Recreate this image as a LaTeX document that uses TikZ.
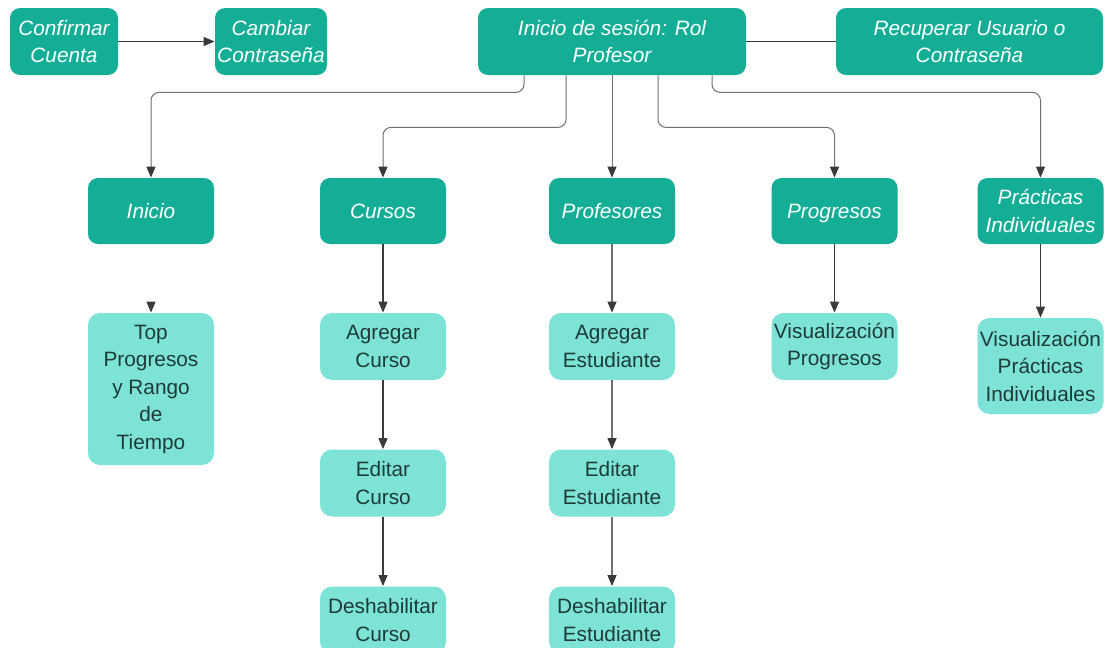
\documentclass[tikz,border=0pt]{standalone}
\usepackage{fontspec}
\setmainfont{Liberation Sans}
\usetikzlibrary{arrows.meta}
\definecolor{darkteal}{HTML}{14AE97}
\definecolor{lightteal}{HTML}{7CE3D6}
\definecolor{boxtext}{HTML}{1E3B37}
\definecolor{linegray}{HTML}{3A3A3A}
\definecolor{branchgray}{HTML}{707070}
\newcommand\boxfont{\fontsize{10.4}{13.75}\selectfont}
\tikzstyle{mainbox}=[rounded corners=5pt,fill=darkteal,text=white,font=\boxfont\itshape,align=center,inner sep=1pt,minimum width=63pt,minimum height=33pt]
\tikzstyle{subbox}=[rounded corners=6pt,fill=lightteal,text=boxtext,font=\boxfont,align=center,inner sep=1pt,minimum width=63pt,minimum height=33.5pt]
\tikzstyle{plain}=[line width=.6pt,draw=linegray]
\tikzstyle{link}=[plain,-{Triangle[length=5.5pt,width=4.5pt,color=linegray]}]
\tikzstyle{branch}=[link,draw=branchgray,line width=.5pt,rounded corners=4pt]

\begin{document}
\begin{tikzpicture}[x=0.5pt,y=-0.5pt]
	\useasboundingbox (0,0) rectangle (1110,648);
	% top row
	\node[mainbox,minimum width=54pt,minimum height=33.5pt]  (conf)  at (64,41.5)    {Confirmar\\Cuenta};
	\node[mainbox,minimum width=56pt,minimum height=33.5pt]  (camb)  at (271,41.5)   {Cambiar\\Contraseña};
	\node[mainbox,minimum width=134pt,minimum height=33.5pt] (login) at (612,41.5)   {Inicio de sesión: Rol\\Profesor};
	\node[mainbox,minimum width=133.5pt,minimum height=33.5pt] (recu) at (969.5,41.5) {Recuperar Usuario o\\Contraseña};
	% menu
	\node[mainbox] (inicio) at (151,211)    {Inicio};
	\node[mainbox] (cursos) at (383,211)    {Cursos};
	\node[mainbox] (profes) at (612,211)    {Profesores};
	\node[mainbox,text depth=0pt] (progr) at (834.5,211) {Progresos};
	\node[mainbox] (pract)  at (1040.5,211) {Prácticas\\Individuales};
	% pages
	\node[subbox,minimum height=76pt] (top)   at (151,389)    {Top\\Progresos\\y Rango\\de\\Tiempo};
	\node[subbox] (agcurso) at (383,346.5)  {Agregar\\Curso};
	\node[subbox] (agest)   at (612,346.5)  {Agregar\\Estudiante};
	\node[subbox] (visprog) at (834.5,346.5) {Visualización\\Progresos};
	\node[subbox,minimum height=48pt] (vispract) at (1040.5,366) {Visualización\\Prácticas\\Individuales};
	\node[subbox] (edcurso) at (383,483)    {Editar\\Curso};
	\node[subbox] (edest)   at (612,483)    {Editar\\Estudiante};
	\node[subbox] (dscurso) at (383,620)    {Deshabilitar\\Curso};
	\node[subbox] (dsest)   at (612,620)    {Deshabilitar\\Estudiante};

	\draw[link]  (conf) -- (camb);
	\draw[plain] (login) -- (recu);
	\draw[branch] ([xshift=-44pt]login.south) -- ++(0,17) -| (inicio);
	\draw[branch] ([xshift=-23pt]login.south) -- ++(0,52) -| (cursos);
	\draw[branch] (login) -- (profes);
	\draw[branch] ([xshift=23pt]login.south)  -- ++(0,52) -| (progr);
	\draw[branch] ([xshift=50pt]login.south)  -- ++(0,17) -| (pract);

	\draw[link,shorten <=29.5pt] (inicio) -- (top);
	\draw[link] (cursos)  -- (agcurso);
	\draw[link] (agcurso) -- (edcurso);
	\draw[link] (edcurso) -- (dscurso);
	\draw[link,draw=branchgray] (profes)  -- (agest);
	\draw[link,draw=branchgray] (agest)   -- (edest);
	\draw[link,draw=branchgray] (edest)   -- (dsest);
	\draw[link] (progr)   -- (visprog);
	\draw[link] (pract)   -- (vispract);
\end{tikzpicture}
\end{document}
